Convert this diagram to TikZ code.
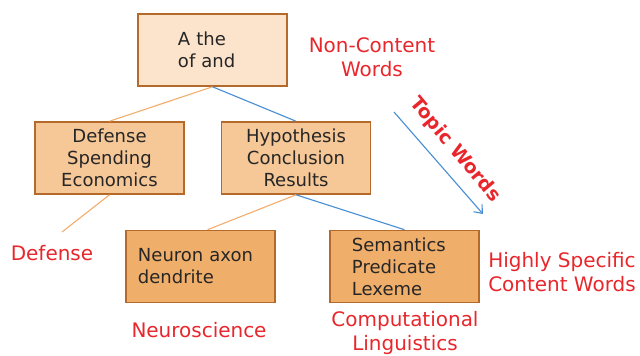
\documentclass[tikz,border=0pt]{standalone}
\usepackage{fontspec}
\setmainfont{DejaVu Sans}
\usetikzlibrary{arrows.meta}

\definecolor{boxedge}{HTML}{B5692A}
\definecolor{pale}{HTML}{FCE3CB}
\definecolor{midfill}{HTML}{F6C797}
\definecolor{deepfill}{HTML}{F0AE6B}
\definecolor{labred}{HTML}{E8262B}
\definecolor{linkblue}{HTML}{4A8FD4}
\definecolor{linkorange}{HTML}{F3AE6E}

\begin{document}
\begin{tikzpicture}[x=0.025cm, y=-0.025cm, >={Straight Barb[length=5pt,width=8pt]},
  box/.style={draw=boxedge, line width=1.1pt, minimum width=3.725cm, minimum height=1.8cm,
    font=\fontsize{12.8}{15.6}\selectfont, text=black!85, align=center, inner sep=0pt},
  tag/.style={text=labred, font=\fontsize{14.2}{17}\selectfont, align=center},
  olink/.style={linkorange, line width=0.8pt},
  blink/.style={linkblue, line width=0.8pt}]
  \useasboundingbox (0,0) rectangle (640,356);
  \node[box, fill=pale, align=left, text width=1.725cm, inner xsep=1cm] (stop) at (212.5,50) {A the\\of and};
  \node[box, fill=midfill] (def) at (109.5,158) {Defense\\Spending\\Economics};
  \node[box, fill=midfill] (hyp) at (296,158) {Hypothesis\\Conclusion\\Results};
  \node[box, fill=deepfill, align=left, text width=3.125cm, inner xsep=0.3cm] (neu) at (200.5,266.5) {Neuron axon\\dendrite\\[-1.4ex]};
  \node[box, fill=deepfill, align=left, text width=2.625cm, inner xsep=0.55cm] (sem) at (404.5,266.5) {Semantics\\Predicate\\Lexeme};
  \coordinate (defend) at (62,232);
  \draw[olink] (stop.south) -- (def.north);
  \draw[blink] (stop.south) -- (hyp.north);
  \draw[olink] (def.south) -- (defend);
  \draw[olink] (hyp.south) -- ([xshift=5]neu.north);
  \draw[blink] (hyp.south) -- (sem.north);
  \node[tag] (noncont) at (372,57) {Non-Content\\Words};
  \node[tag] (deftag) at (52,253) {Defense};
  \node[tag] (neutag) at (199,330) {Neuroscience};
  \node[tag] (comptag) at (405,333) {Computational\\Linguistics};
  \node[tag] (spectag) at (562,272) {Highly Specific\\Content Words};
  \coordinate (topa) at (394,112);
  \coordinate (topb) at (483,214);
  \draw[->, blink] (topa) -- (topb);
  \node[tag, rotate=-50, font=\bfseries\fontsize{13.5}{17}\selectfont] (topictag) at (455,150) {Topic Words};
\end{tikzpicture}
\end{document}
